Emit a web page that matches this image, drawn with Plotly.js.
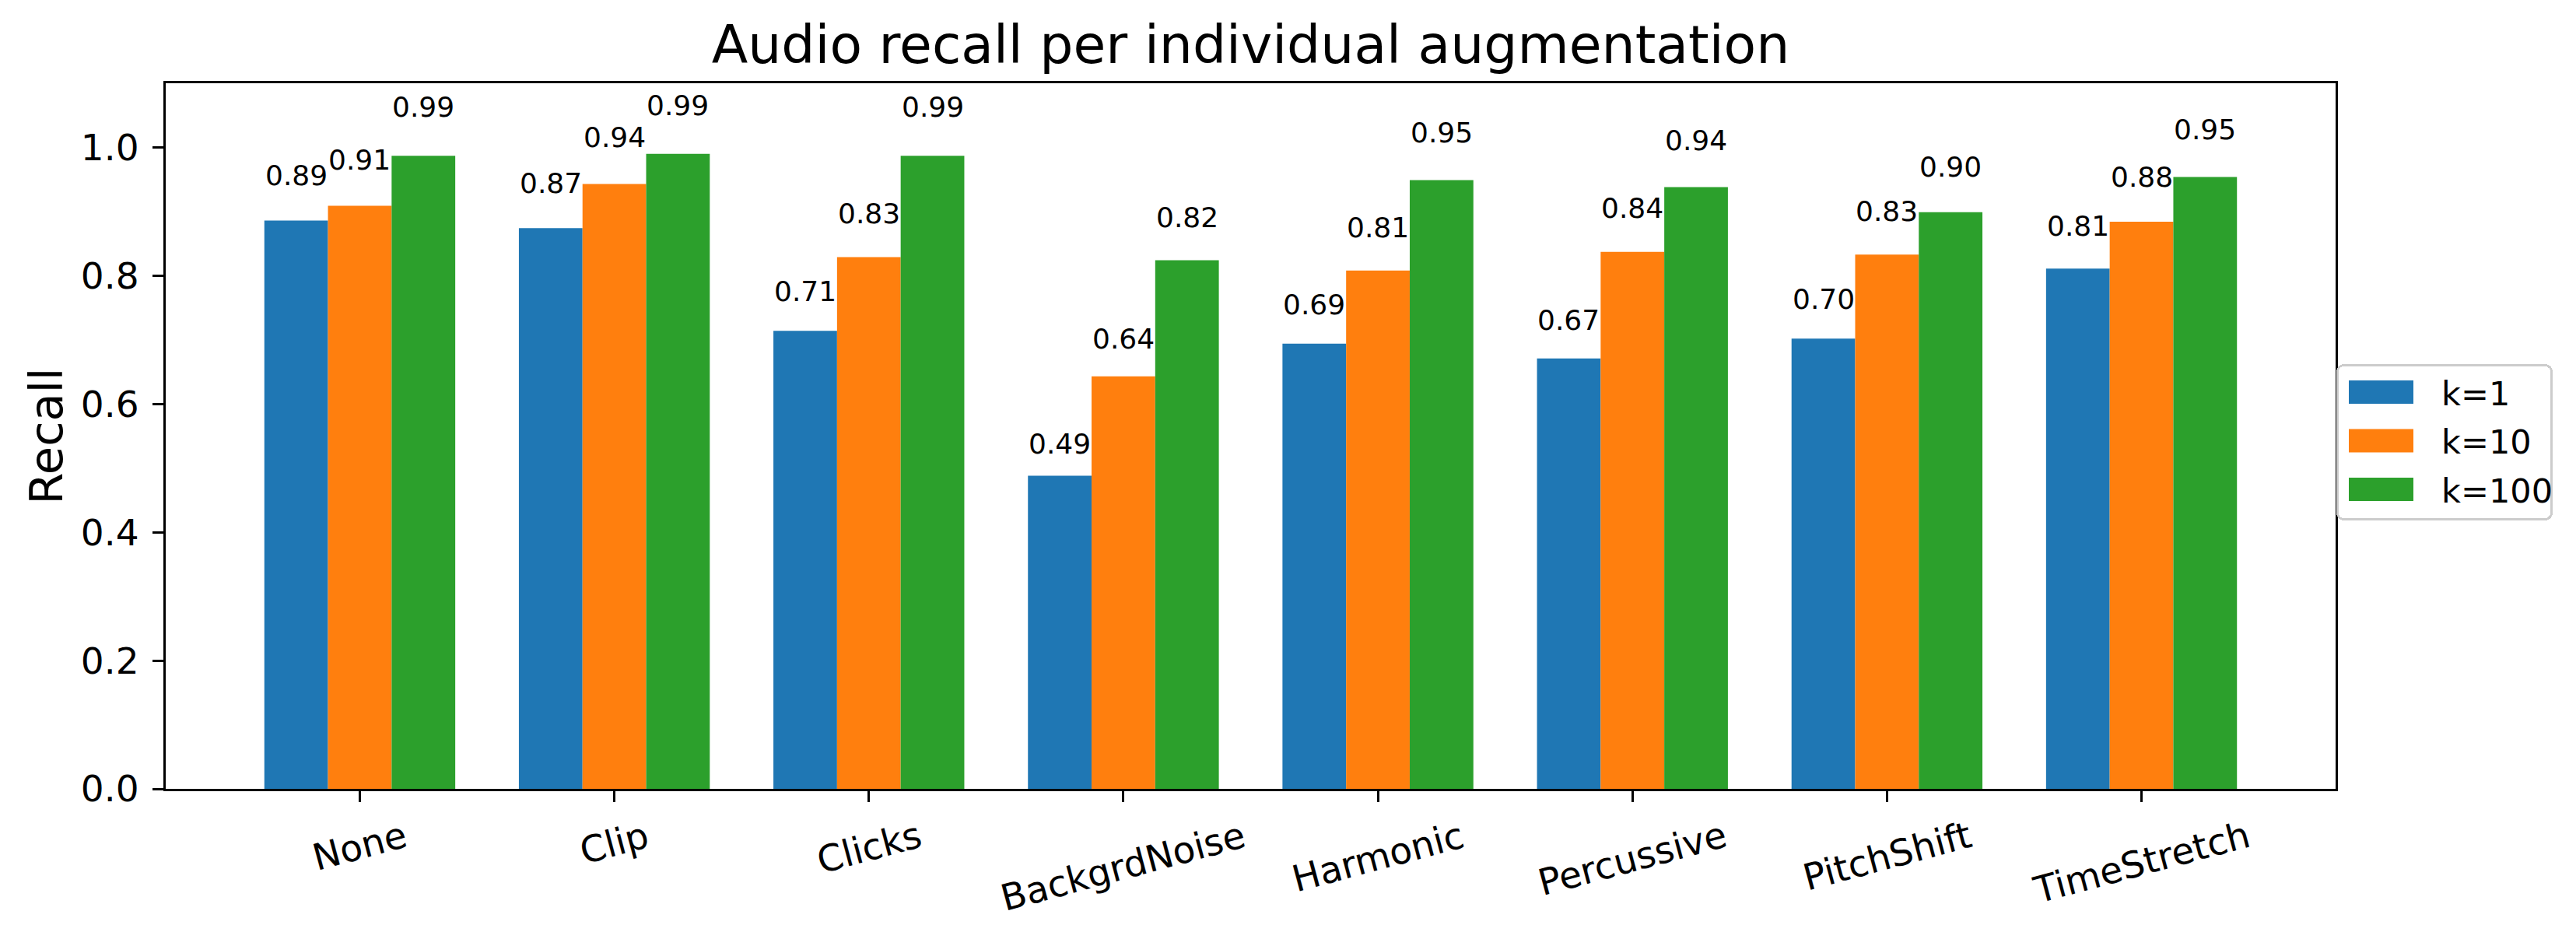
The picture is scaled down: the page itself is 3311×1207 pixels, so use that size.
<!DOCTYPE html>
<html>
<head>
<meta charset="utf-8">
<script src="https://cdn.plot.ly/plotly-3.0.1.min.js"></script>
<style>html,body{margin:0;padding:0;background:#fff;}#chart{width:3311px;height:1207px;}</style>
</head>
<body>
<div id="chart"></div>
<script>
// ---- data ----
const categories = ['None', 'Clip', 'Clicks', 'BackgrdNoise', 'Harmonic', 'Percussive', 'PitchShift', 'TimeStretch'];
const seriesNames = ['k=1', 'k=10', 'k=100'];
const recallK1   = [0.886, 0.874, 0.714, 0.488, 0.694, 0.671, 0.702, 0.811];
const recallK10  = [0.909, 0.943, 0.829, 0.643, 0.808, 0.837, 0.833, 0.884];
const recallK100 = [0.987, 0.990, 0.987, 0.824, 0.949, 0.938, 0.899, 0.954];
const yTickVals  = [0.0, 0.2, 0.4, 0.6, 0.8, 1.0];

const colors = ['#1f77b4', '#ff7f0e', '#2ca02c'];
const FONT = 'DejaVu Sans, Liberation Sans, sans-serif';
const seriesValues = [recallK1, recallK10, recallK100];

const traces = seriesValues.map((vals, j) => ({
  type: 'bar',
  name: seriesNames[j],
  x: categories,
  y: vals,
  marker: {color: colors[j], line: {width: 0}},
  hoverinfo: 'x+y+name'
}));

const annotations = [];
// value labels above bars (placed at value*1.05, like the original)
seriesValues.forEach((vals, j) => {
  vals.forEach((v, i) => {
    annotations.push({
      x: i + (j - 1) * 0.25, y: v * 1.05, xref: 'x', yref: 'y',
      text: v.toFixed(2), showarrow: false,
      xanchor: 'center', yanchor: 'bottom', borderpad: 0,
      font: {family: FONT, size: 36, color: '#000'}
    });
  });
});
// rotated category labels, centred under each tick
categories.forEach((c, i) => {
  annotations.push({
    x: i, y: 0, xref: 'x', yref: 'y',
    text: c, showarrow: false, textangle: -15,
    xanchor: 'center', yanchor: 'top', yshift: -30, borderpad: 0,
    font: {family: FONT, size: 47, color: '#000'}
  });
});

const layout = {
  width: 3311, height: 1207,
  margin: {l: 213, r: 309, t: 107, b: 193, pad: 0},
  paper_bgcolor: '#fff', plot_bgcolor: '#fff',
  font: {family: FONT, color: '#000'},
  title: {
    text: 'Audio recall per individual augmentation',
    font: {family: FONT, size: 68, color: '#000'},
    xref: 'paper', x: 0.5, xanchor: 'center',
    yref: 'container', y: 1 - 57 / 1207, yanchor: 'middle'
  },
  barmode: 'group', bargap: 0.25, bargroupgap: 0,
  xaxis: {
    type: 'category',
    range: [-0.7625, 7.7625],
    showticklabels: false,
    ticks: 'outside', ticklen: 14, tickwidth: 3, tickcolor: '#000',
    showline: true, linecolor: '#000', linewidth: 3, mirror: true,
    showgrid: false, zeroline: false
  },
  yaxis: {
    range: [0, 1.1],
    tickvals: yTickVals, tickformat: '.1f',
    ticks: 'outside', ticklen: 14, tickwidth: 3, tickcolor: '#000',
    ticklabelstandoff: 8,
    tickfont: {family: FONT, size: 47, color: '#000'},
    showline: true, linecolor: '#000', linewidth: 3, mirror: true,
    showgrid: false, zeroline: false,
    title: {text: 'Recall', font: {family: FONT, size: 59, color: '#000'}, standoff: 5}
  },
  legend: {
    x: 1.0004, xanchor: 'left', y: 0.5, yanchor: 'middle',
    bgcolor: 'rgba(255,255,255,0.8)', bordercolor: '#cccccc', borderwidth: 3,
    font: {family: FONT, size: 43, color: '#000'},
    itemwidth: 90, traceorder: 'normal'
  },
  annotations: annotations,
  showlegend: true
};

// Reshape legend so its swatches/spacing follow the original (matplotlib-style) legend
function fixLegend() {
  const gd = document.getElementById('chart');
  const leg = gd.querySelector('g.legend');
  if (!leg) return;
  const L = 3003, T = 468, W = 278, H = 201, BW = 3;
  leg.setAttribute('transform', 'translate(' + L + ',' + T + ')');
  const bg = leg.querySelector('rect.bg');
  if (bg) {
    bg.setAttribute('x', BW / 2); bg.setAttribute('y', BW / 2);
    bg.setAttribute('width', W - BW); bg.setAttribute('height', H - BW);
    bg.setAttribute('rx', 8); bg.setAttribute('ry', 8);
  }
  leg.querySelectorAll('[clip-path]').forEach(e => e.removeAttribute('clip-path'));
  leg.querySelectorAll('g.scrollbox, g.groups').forEach(e => e.setAttribute('transform', 'translate(0,0)'));
  const rows = [36, 98.5, 161];
  leg.querySelectorAll('g.traces').forEach((tr, i) => {
    tr.setAttribute('transform', 'translate(0,' + rows[i] + ')');
    const trM = tr.getScreenCTM();
    tr.querySelectorAll('g.legendpoints path').forEach(path => {
      const m = path.getScreenCTM();
      const ox = m.e - trM.e, oy = m.f - trM.f;
      path.setAttribute('d', 'M' + (16 - ox) + ',' + (-15 - oy) + 'h83v30h-83Z');
    });
    const txt = tr.querySelector('text.legendtext');
    if (txt) {
      const tb = txt.getBoundingClientRect();
      const curLeft = tb.left - trM.e;
      const dx = 135 - curLeft;
      const x0 = parseFloat(txt.getAttribute('x') || 0);
      txt.setAttribute('x', x0 + dx);
      txt.querySelectorAll('tspan[x]').forEach(ts => ts.setAttribute('x', parseFloat(ts.getAttribute('x')) + dx));
    }
  });
}

Plotly.newPlot('chart', traces, layout, {staticPlot: true, displayModeBar: false}).then(fixLegend);
</script>
</body>
</html>
